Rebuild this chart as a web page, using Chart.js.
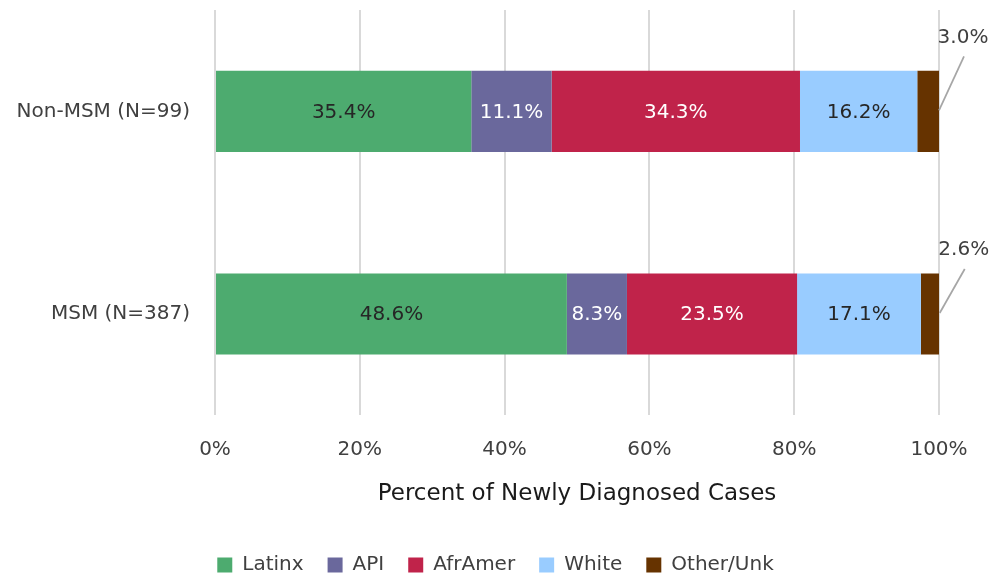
<!DOCTYPE html>
<html>
<head>
<meta charset="utf-8">
<script src="https://cdn.jsdelivr.net/npm/chart.js@4.4.1/dist/chart.umd.min.js"></script>
<style>
  html, body { margin: 0; padding: 0; background: #fff; }
  #wrap { width: 991px; height: 577px; }
</style>
</head>
<body>
<div id="wrap"><canvas id="raceChart"></canvas></div>
<script>
// Données
const groups = ['Non-MSM (N=99)', 'MSM (N=387)'];
const seriesNames = ['Latinx', 'API', 'AfrAmer', 'White', 'Other/Unk'];
const latinx = [35.4, 48.6];
const api = [11.1, 8.3];
const afrAmer = [34.3, 23.5];
const white = [16.2, 17.1];
const otherUnk = [3.0, 2.6];
const xTicks = [0, 20, 40, 60, 80, 100];

const colors = ['#4DAB6F', '#6A689C', '#C0234A', '#99CCFF', '#663300'];
const labelColors = ['#262626', '#ffffff', '#ffffff', '#262626', null];
const leaderRise = [54, 44];
const FONT = "'DejaVu Sans', sans-serif";

// Étiquettes de valeurs (avec lignes de rappel pour les petits segments)
const valueLabels = {
  id: 'valueLabels',
  afterDatasetsDraw(chart) {
    const ctx = chart.ctx;
    ctx.save();
    ctx.font = '20px ' + FONT;
    ctx.textAlign = 'center';
    ctx.textBaseline = 'middle';
    chart.data.datasets.forEach((ds, i) => {
      const meta = chart.getDatasetMeta(i);
      meta.data.forEach((bar, j) => {
        const txt = ds.data[j].toFixed(1) + '%';
        if (labelColors[i]) {
          ctx.fillStyle = labelColors[i];
          ctx.fillText(txt, (bar.base + bar.x) / 2, bar.y + 1);
        } else {
          // petit segment : texte au-dessus à droite + trait
          const x0 = bar.x, y0 = bar.y - 1;
          const x1 = x0 + 25, y1 = y0 - leaderRise[j];
          ctx.strokeStyle = '#A6A6A6';
          ctx.lineWidth = 1.75;
          ctx.beginPath();
          ctx.moveTo(x0, y0);
          ctx.lineTo(x1, y1);
          ctx.stroke();
          ctx.fillStyle = '#404040';
          ctx.fillText(txt, x0 + 24, y1 - 19);
        }
      });
    });
    ctx.restore();
  }
};

const values = [latinx, api, afrAmer, white, otherUnk];

new Chart(document.getElementById('raceChart').getContext('2d'), {
  type: 'bar',
  data: {
    labels: groups,
    datasets: seriesNames.map((name, i) => ({
      label: name,
      data: values[i],
      backgroundColor: colors[i],
      borderWidth: 0,
      barPercentage: 0.8,
      categoryPercentage: 0.5
    }))
  },
  options: {
    indexAxis: 'y',
    responsive: true,
    maintainAspectRatio: false,
    animation: false,
    layout: { padding: { top: 10, right: 0, left: 0, bottom: -8 } },
    scales: {
      x: {
        stacked: true,
        min: 0,
        max: 100,
        afterBuildTicks: (scale) => { scale.ticks = xTicks.map(v => ({ value: v })); },
        afterFit: (scale) => { scale.paddingRight = 52; },
        grid: { color: '#D9D9D9', lineWidth: 2, drawTicks: false },
        border: { display: false },
        ticks: {
          color: '#404040',
          font: { family: FONT, size: 20 },
          padding: 22,
          callback: (v) => v + '%'
        },
        title: {
          display: true,
          text: 'Percent of Newly Diagnosed Cases',
          color: '#1a1a1a',
          font: { family: FONT, size: 23 },
          padding: { top: -3, bottom: 23 }
        }
      },
      y: {
        stacked: true,
        afterFit: (scale) => {
          scale.width = 215;
          scale.paddingTop = 0;
          scale.paddingBottom = 0;
        },
        grid: { display: false },
        border: { display: false },
        ticks: {
          color: '#404040',
          font: { family: FONT, size: 20 },
          padding: 17
        }
      }
    },
    plugins: {
      legend: {
        position: 'bottom',
        labels: {
          color: '#404040',
          font: { family: FONT, size: 20 },
          boxWidth: 15,
          boxHeight: 15,
          padding: 24
        }
      },
      tooltip: { enabled: false }
    }
  },
  plugins: [valueLabels]
});
</script>
</body>
</html>
